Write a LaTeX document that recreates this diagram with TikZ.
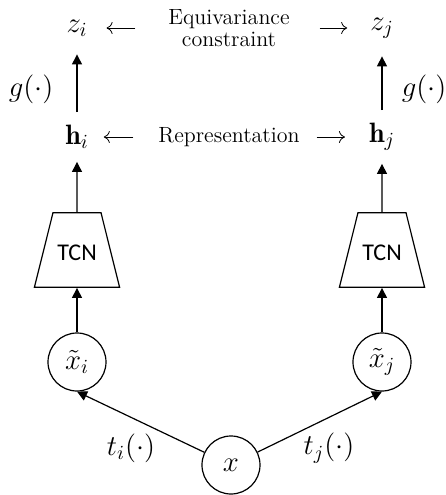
\documentclass[tikz,border=0pt]{standalone}
\usepackage{fontspec}
\newfontfamily\tcnfont{Carlito}
\usetikzlibrary{shapes.geometric,arrows.meta}
\begin{document}
\begin{tikzpicture}[x=0.5pt,y=-0.5pt,
    every node/.style={anchor=center,font=\fontsize{11}{13}\selectfont},
    sym/.style={font=\fontsize{14}{16}\selectfont},
    enc/.style={draw,trapezium,trapezium left angle=76,trapezium right angle=76,
        text width=20pt,align=center,text height=10.7pt,text depth=0pt,
        inner xsep=2pt,inner ysep=13.3pt,line width=0.6pt,
        font=\tcnfont\fontsize{12}{14}\selectfont},
    view/.style={draw,circle,minimum size=29pt,inner sep=0pt,line width=0.6pt,sym},
    arr/.style={-{Triangle[length=5pt,width=5pt]},line width=0.6pt},
    marr/.style={-{Computer Modern Rightarrow[length=3pt,width=6pt]},line width=0.4pt}]
    \useasboundingbox (0,0) rectangle (446,495);

    % Projections
    \node[sym] (zi) at (77,28) {$z_i$};
    \node[sym] (zj) at (382,28) {$z_j$};
    \node[align=center] (eq) at (229,28) {Equivariance\\[-2pt]constraint};

    % Representations
    \node[sym] (hi) at (77,137) {$\mathbf{h}_i$};
    \node[sym] (hj) at (382,137) {$\mathbf{h}_j$};
    \node (rep) at (229,137) {Representation};

    % Encoders
    \node[enc] (tcni) at (77,250) {TCN};
    \node[enc] (tcnj) at (382,250) {TCN};

    % Views
    \node[view] (xti) at (77,362) {$\tilde{x}_i$};
    \node[view] (xtj) at (382,362) {$\tilde{x}_j$};
    \node[view] (x) at (231,465) {$x$};

    % Labels
    \node[sym] (gi) at (31,89) {$g(\cdot)$};
    \node[sym] (gj) at (424,89) {$g(\cdot)$};
    \node[sym] (ti) at (131,448) {$t_i(\cdot)$};
    \node[sym] (tj) at (329,448) {$t_j(\cdot)$};

    % Arrows
    \draw[arr] (x) -- (xti.south);
    \draw[arr] (x) -- (xtj.south);
    \draw[arr] (xti) -- (tcni);
    \draw[arr] (xtj) -- (tcnj);
    \draw[arr,shorten >=3pt] (tcni) -- (hi);
    \draw[arr,shorten >=3pt] (tcnj) -- (hj);
    \draw[arr,shorten <=3pt,shorten >=5.5pt] (hi) -- (zi);
    \draw[arr,shorten <=3pt,shorten >=5.5pt] (hj) -- (zj);
    \draw[marr,shorten <=13pt,shorten >=6pt] (eq.west |- zi) -- (zi);
    \draw[marr,shorten <=11.5pt,shorten >=8pt] (eq.east |- zj) -- (zj);
    \draw[marr,shorten <=9pt,shorten >=4pt] (rep) -- (hi);
    \draw[marr,shorten <=5pt,shorten >=8.5pt] (rep) -- (hj);
\end{tikzpicture}
\end{document}
